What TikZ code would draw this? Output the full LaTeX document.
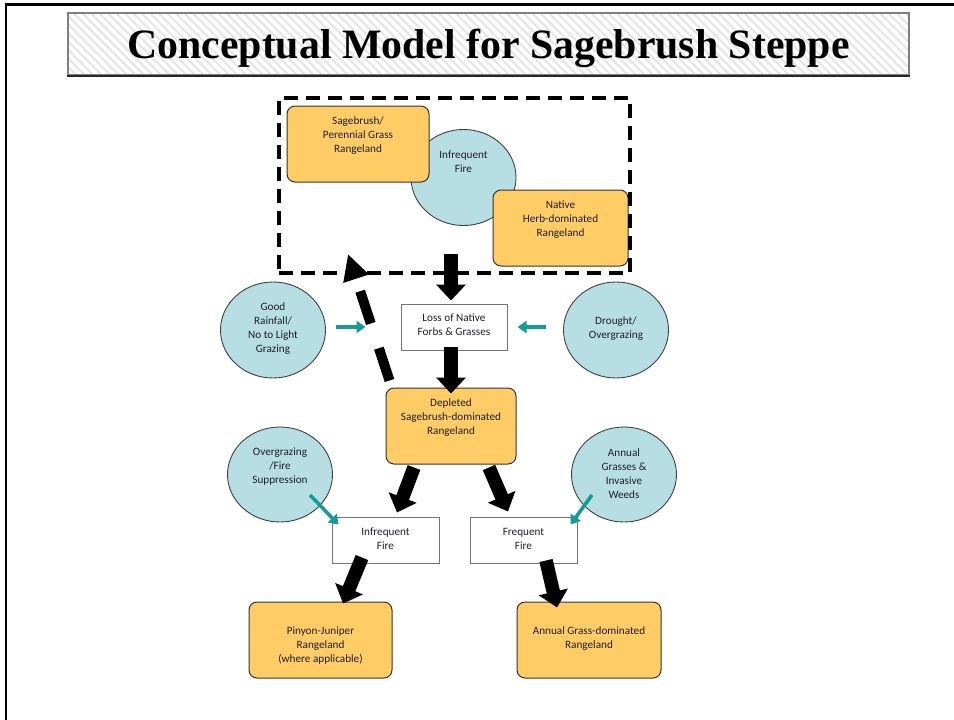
\documentclass[tikz,border=0pt]{standalone}
\usepackage{fontspec}
\setmainfont{Carlito}
\newfontfamily\titlefont{Liberation Serif}
\usetikzlibrary{arrows.meta,shapes.geometric,patterns.meta,calc}
\definecolor{orng}{RGB}{255,204,102}
\definecolor{lblue}{RGB}{183,222,226}
\definecolor{tealc}{RGB}{20,155,150}
\definecolor{txtc}{RGB}{30,30,45}
\tikzset{
  obox/.style={draw=black!80, line width=1pt, fill=orng, rounded corners=8pt, minimum height=76pt, inner sep=0pt},
  wbox/.style={draw=black!55, line width=1pt, fill=white, minimum width=107pt, minimum height=46pt, inner sep=0pt},
  circ/.style={ellipse, draw=black!75, line width=0.9pt, fill=lblue, minimum width=105pt, minimum height=96pt, inner sep=0pt},
  txt/.style={font=\fontsize{11.2}{14}\selectfont, align=center, text=txtc, inner sep=0pt},
  blk/.style={line width=13.5pt, -{Triangle[width=29pt,length=16pt]}},
  dblk/.style={line width=10pt, dash pattern=on 34pt off 26pt, -{Triangle[width=25pt,length=26pt]}},
  tarr/.style={tealc, line width=3.5pt, -{Triangle[width=12pt,length=9pt]}},
}
\begin{document}
\begin{tikzpicture}[x=1pt,y=-1pt]
\useasboundingbox (0,0) rectangle (954,720);
% frame
\draw[line width=3pt] (4.5,4.5) -- (954,4.5);
\draw[line width=2.5pt] (6,3) -- (6,720);
% title
\node[draw=black!50, line width=1.5pt, preaction={fill=white},
      pattern={Lines[angle=-45,distance=6pt,line width=2pt]}, pattern color=black!10,
      minimum width=841pt, minimum height=62pt, inner sep=0pt] (tbox) at (488.5,44) {};
\draw[black!85, line width=1.5pt] (tbox.south west) -- (tbox.south east);
\node[inner sep=0pt, anchor=base, font=\titlefont\bfseries\fontsize{41.8}{48}\selectfont] (ttl) at (488.5,58) {Conceptual Model for Sagebrush Steppe};

% top group
\node[circ] (fire1) at (463.5,177.5) {};
\node[obox, minimum width=142pt] (sage) at (358,144) {};
\node[txt] (sageT) at (358,135.5) {Sagebrush/\\Perennial Grass\\Rangeland};
\node[obox, minimum width=135pt] (native) at (560.5,228) {};
\node[txt] (nativeT) at (560.5,219.5) {Native\\Herb-dominated\\Rangeland};
\node[txt] (fire1T) at (463.5,161.5) {Infrequent\\Fire};
\node[draw, line width=4pt, dash pattern=on 14pt off 8pt, minimum width=351pt, minimum height=175pt, inner sep=0pt] (grp) at (454.5,185.5) {};

% middle
\node[wbox, minimum width=106pt] (loss) at (454,327) {};
\node[txt] (lossT) at (454,324.5) {Loss of Native\\Forbs \& Grasses};
\node[circ] (good) at (273,330) {};
\node[txt] (goodT) at (273,328.5) {Good\\Rainfall/\\No to Light\\Grazing};
\node[circ] (drought) at (616,330) {};
\node[txt] (droughtT) at (616,328.5) {Drought/\\Overgrazing};
\node[obox, minimum width=130pt] (depl) at (451,426) {};
\node[txt] (deplT) at (451,417.5) {Depleted\\Sagebrush-dominated\\Rangeland};

% lower
\node[circ, minimum height=95pt] (overg) at (280,474.5) {};
\node[txt] (overgT) at (280,466.5) {Overgrazing\\/Fire\\Suppression};
\node[circ, minimum height=95pt] (agw) at (624,474.5) {};
\node[txt] (agwT) at (624,473.5) {Annual\\Grasses \&\\Invasive\\Weeds};
\node[wbox] (infire) at (385.5,540) {};
\node[txt] (infireT) at (385.5,538.5) {Infrequent\\Fire};
\node[wbox] (frfire) at (523.5,540) {};
\node[txt] (frfireT) at (523.5,538.5) {Frequent\\Fire};
\node[obox, minimum width=143pt] (pinyon) at (320.5,640) {};
\node[txt] (pinyonT) at (320.5,645.5) {Pinyon-Juniper\\Rangeland\\(where applicable)};
\node[obox, minimum width=144pt] (agrass) at (589,640) {};
\node[txt] (agrassT) at (589,638.5) {Annual Grass-dominated\\Rangeland};

% black arrows
\draw[blk] ($(grp.south)+(-3.5,-21)$) -- ($(loss.north)+(-3,-3)$);
\draw[blk] ($(loss.south)+(-3,-4)$) -- ($(depl.north)+(0,6)$);
\draw[dblk] ($(depl.north west)+(4,-7)$) -- ($(grp.south west)+(71,-21)$);
\draw[blk] ($(depl.south)+(-37,3)$) -- ($(infire.north)+(11.5,-4)$);
\draw[blk] ($(depl.south)+(38,3)$) -- ($(frfire.north)+(-15.5,-5)$);
\draw[blk] ($(infire.south)+(-23.5,-6)$) -- ($(pinyon.north)+(22.5,2)$);
\draw[blk] ($(frfire.south)+(22.5,-3)$) -- ($(agrass.north)+(-32,6)$);

% teal arrows
\draw[tarr] ($(good.east)+(10.5,-3)$) -- ($(loss.west)+(-35,0)$);
\draw[tarr] ($(drought.west)+(-17.5,-3)$) -- ($(loss.east)+(10,0)$);
\draw[tarr] ($(overg.center)+(30,20.5)$) -- ($(infire.north west)+(7,8)$);
\draw[tarr] ($(agw.center)+(-32,20.5)$) -- ($(frfire.north east)+(-7,8)$);
\end{tikzpicture}
\end{document}
